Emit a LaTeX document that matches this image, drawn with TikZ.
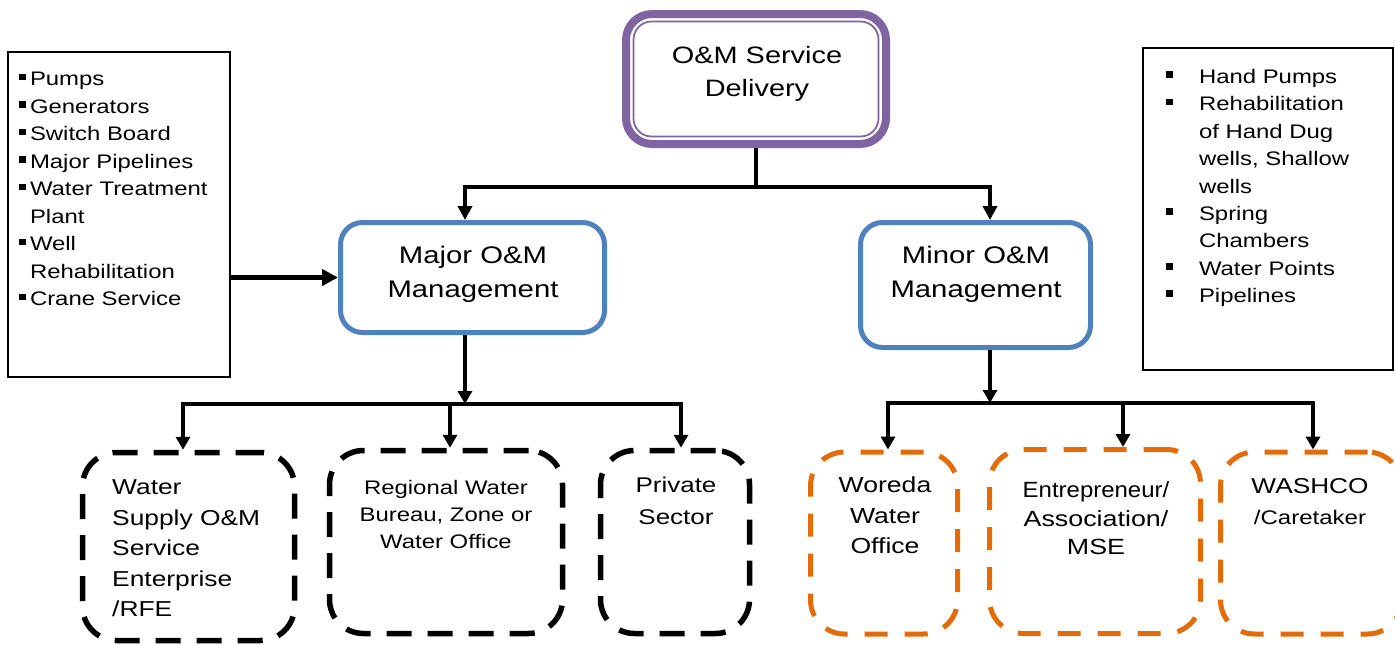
\documentclass[tikz,border=0pt]{standalone}
\usepackage{fontspec}
\setmainfont{Liberation Sans}[FakeStretch=1.22]
\usetikzlibrary{arrows.meta,calc}
\definecolor{ompurple}{HTML}{8064A2}
\definecolor{omblue}{HTML}{4F81BD}
\definecolor{omorange}{HTML}{E36C09}
\newcommand{\sqbul}{\rule[5.8pt]{6.8pt}{6.5pt}}
\begin{document}
\begin{tikzpicture}[x=1pt,y=-1pt,
  txt/.style={inner sep=0pt, align=center, text=black},
  listbox/.style={draw=black, line width=1.8pt, inner sep=0pt},
  blackdash/.style={draw=black, line width=5.5pt, rounded corners=34pt, dash pattern=on 25pt off 16pt, inner sep=0pt},
  orangedash/.style={draw=omorange, line width=5pt, rounded corners=34pt, dash pattern=on 23pt off 17pt, inner sep=0pt},
  bluebox/.style={draw=omblue, line width=5pt, rounded corners=22pt, inner sep=0pt},
  toparr/.style={line width=4.5pt, -{Triangle[length=14pt,width=14pt]}},
  toplink/.style={line width=4.5pt},
  arr/.style={line width=3.3pt, -{Triangle[length=13pt,width=14pt]}},
  sidearr/.style={line width=5pt, -{Triangle[length=16pt,width=16pt]}}
]
\useasboundingbox (0,0) rectangle (1395,645);
\fill[white] (0,0) rectangle (1395,645);

% top box
\node[draw=ompurple, line width=8pt, rounded corners=26pt, minimum width=260pt, minimum height=130pt, inner sep=0pt] (top) at (756,79) {};
\draw[ompurple, line width=1.8pt, rounded corners=18pt] ([xshift=11.5pt,yshift=-11.5pt]top.north west) rectangle ([xshift=-11.5pt,yshift=11.5pt]top.south east);
\node[txt, font=\fontsize{23.7}{33.5}\selectfont] (toptxt) at (757,74) {O\&M Service\\Delivery};

% management boxes
\node[bluebox, minimum width=264pt, minimum height=110pt] (major) at (472.5,277.5) {};
\node[txt, font=\fontsize{24}{34}\selectfont] (majtxt) at (473,274) {Major O\&M\\Management};
\node[bluebox, minimum width=230pt, minimum height=125pt] (minor) at (975.5,285) {};
\node[txt, font=\fontsize{24}{34}\selectfont] (mintxt) at (976,274.5) {Minor O\&M\\Management};

% list boxes
\node[listbox, minimum width=222pt, minimum height=325pt] (leftlist) at (119,214.5) {};
\node[inner sep=0pt, anchor=north west, font=\fontsize{19.6}{27.5}\selectfont] (lefttxt) at (19,66.4) {%
\begin{tabular}{@{}l@{\hspace{4pt}}l@{}}
\sqbul & Pumps\\
\sqbul & Generators\\
\sqbul & Switch Board\\
\sqbul & Major Pipelines\\
\sqbul & Water Treatment\\
 & Plant\\
\sqbul & Well\\
 & Rehabilitation\\
\sqbul & Crane Service
\end{tabular}};
\node[listbox, minimum width=250pt, minimum height=322pt] (rightlist) at (1268,209) {};
\node[inner sep=0pt, anchor=north west, font=\fontsize{19.6}{27.4}\selectfont] (righttxt) at (1166,64.2) {%
\begin{tabular}{@{}l@{\hspace{26pt}}l@{}}
\sqbul & Hand Pumps\\
\sqbul & Rehabilitation\\
 & of Hand Dug\\
 & wells, Shallow\\
 & wells\\
\sqbul & Spring\\
 & Chambers\\
\sqbul & Water Points\\
\sqbul & Pipelines
\end{tabular}};

% bottom boxes (major side)
\node[blackdash, minimum width=212pt, minimum height=188pt] (b1) at (188.5,546.5) {};
\node[txt, align=left, anchor=west, font=\fontsize{21.6}{30.5}\selectfont] (b1txt) at (112,548.5) {Water\\Supply O\&M\\Service\\Enterprise\\/RFE};
\node[blackdash, minimum width=233pt, minimum height=183pt] (b2) at (446,542) {};
\node[txt, font=\fontsize{19.6}{27}\selectfont] (b2txt) at (446,514) {Regional Water\\Bureau, Zone or\\Water Office};
\node[blackdash, minimum width=149pt, minimum height=183pt] (b3) at (675,542) {};
\node[txt, font=\fontsize{21.3}{32}\selectfont] (b3txt) at (676,501) {Private\\Sector};

% bottom boxes (minor side)
\node[orangedash, minimum width=147pt, minimum height=182pt] (b4) at (884,543) {};
\node[txt, font=\fontsize{21.8}{30.5}\selectfont] (b4txt) at (885,515.5) {Woreda\\Water\\Office};
\node[orangedash, minimum width=211pt, minimum height=184pt] (b5) at (1095,541.5) {};
\node[txt, font=\fontsize{22}{28.5}\selectfont] (b5txt) at (1096,518.5) {{\addfontfeature{FakeStretch=1.09}Entrepreneur/}\\Association/\\MSE};
\node[orangedash, minimum width=181pt, minimum height=182pt] (b6) at (1311,543) {};
\node[txt, font=\fontsize{21.5}{31}\selectfont] (b6txt) at (1310,501.5) {WASHCO\\{\fontsize{19.7}{31}\selectfont /Caretaker}};

% connectors from top
\coordinate (j0) at (756,187);
\draw[toplink] (top.south) -- (j0);
\draw[toparr] (j0) -| ([xshift=-7.5pt]major.north);
\draw[toparr] (j0) -| ([xshift=14.5pt]minor.north);

% side arrow
\draw[sidearr] (leftlist.east |- major.west) -- (major.west);

% major children
\coordinate (j1) at (465,404);
\draw[arr] ([xshift=-7.5pt]major.south) -- (j1);
\draw[arr] (j1) -| ([xshift=-5.5pt]b1.north);
\draw[arr] (j1) -| ([xshift=4pt]b2.north);
\draw[arr] (j1) -| ([xshift=6pt]b3.north);

% minor children
\coordinate (j2) at (990,403);
\draw[arr] ([xshift=14.5pt]minor.south) -- (j2);
\draw[arr] (j2) -| ([xshift=4pt]b4.north);
\draw[arr] (j2) -| ([xshift=28pt]b5.north);
\draw[arr] (j2) -| ([xshift=2pt]b6.north);
\end{tikzpicture}
\end{document}
